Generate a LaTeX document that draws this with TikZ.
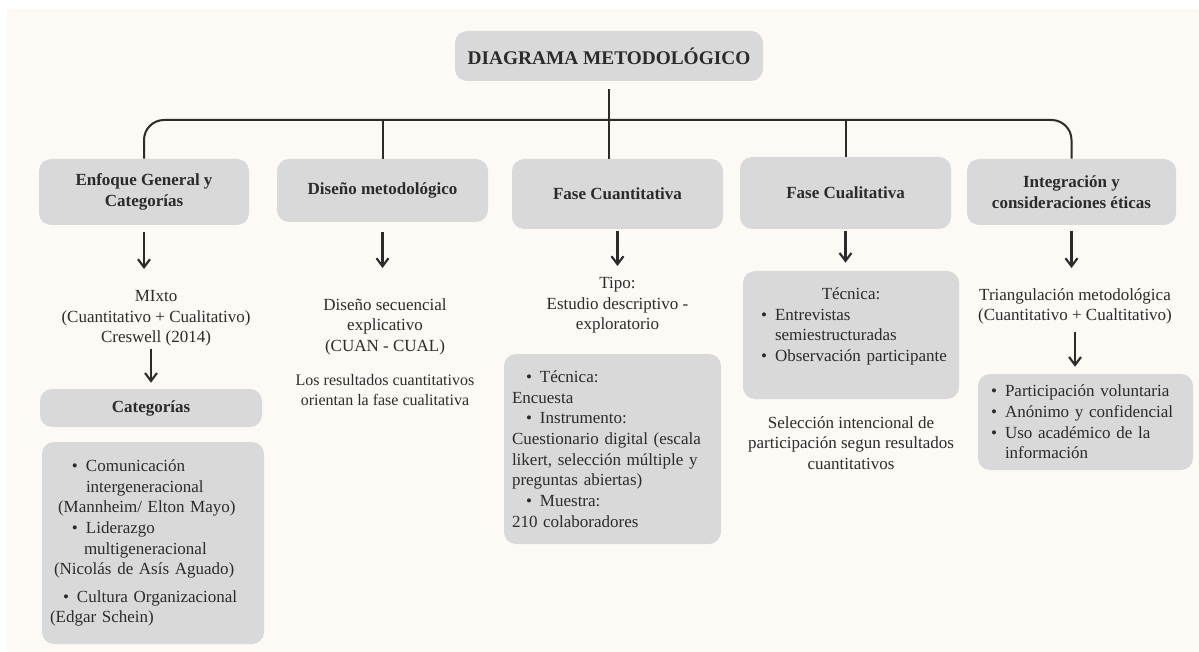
\documentclass[tikz,border=0pt]{standalone}
\usepackage{fontspec}
\setmainfont{Liberation Serif}
\usetikzlibrary{arrows.meta}

\definecolor{cream}{HTML}{FDF9F5}
\definecolor{boxgray}{HTML}{D9D9D9}
\definecolor{ink}{HTML}{2B2B2B}
\newcommand{\bul}{\makebox[10.5pt][l]{\textbullet}}

\begin{document}
\begin{tikzpicture}[x=0.75pt, y=-0.75pt,
  every node/.style={text=ink, font=\fontsize{12.75}{15.5}\selectfont},
  hdbox/.style={fill=boxgray, rounded corners=9pt, inner sep=0pt, align=center,
    font=\fontsize{12.75}{15.5}\selectfont\bfseries},
  listbox/.style={fill=boxgray, rounded corners=9pt, inner xsep=6pt, inner ysep=0pt, align=left},
  txtnode/.style={inner sep=0pt, align=center},
  treeline/.style={draw=ink, line width=1.5pt},
  arrowline/.style={every edge/.style={draw=ink, line width=1.6pt,
    -{Straight Barb[length=6pt,width=9pt]}}}
  ]
  \useasboundingbox (0,0) rectangle (1199,652);
  \fill[white] (0,0) rectangle (1199,652);
  \fill[cream] (7,9) rectangle (1199,652);

  % title and the five branches
  \node[hdbox, minimum width=231pt, minimum height=37.5pt,
    font=\fontsize{14.5}{17}\selectfont\bfseries] (title) at (609,56) {DIAGRAMA METODOLÓGICO};
  \node[hdbox, minimum width=157.5pt, minimum height=49.5pt] (hEnf) at (144,192) {Enfoque General y\\Categorías};
  \node[hdbox, minimum width=158.25pt, minimum height=47.25pt] (hDis) at (382.5,190.5) {Diseño metodológico};
  \node[hdbox, minimum width=158.25pt, minimum height=52.5pt] (hCuan) at (617.5,194) {Fase Cuantitativa};
  \node[hdbox, minimum width=158.25pt, minimum height=54pt] (hCual) at (845.5,193) {Fase Cualitativa};
  \node[hdbox, minimum width=156.75pt, minimum height=49.5pt] (hInt) at (1071.5,192) {Integración y\\consideraciones éticas};
  \coordinate (bar) at (0,120);

  % first column
  \node[txtnode, anchor=north] (mixto) at (156,290) {MIxto\\(Cuantitativo + Cualitativo)\\Creswell (2014)};
  \node[hdbox, minimum width=166.5pt, minimum height=28.5pt] (cat) at (151,408) {Categorías};
  \node[listbox, text width=154.5pt, minimum height=151.5pt] (catlist) at (153,543) {%
    \hspace*{16.5pt}\bul Comunicación\\
    \hspace*{27pt}intergeneracional\\
    \hspace*{6pt}(Mannheim/ Elton Mayo)\\
    \hspace*{16.5pt}\bul Liderazgo\\
    \hspace*{25.5pt}multigeneracional\\
    \hspace*{3pt}(Nicolás de Asís Aguado)\\[5pt]
    \hspace*{9.75pt}\bul Cultura Organizacional\\
    (Edgar Schein)};

  % second column
  \node[txtnode, anchor=north] (dis1) at (385,298) {Diseño secuencial\\explicativo\\(CUAN - CUAL)};
  \node[txtnode, font=\fontsize{12}{14.5}\selectfont] (dis2) at (385,390) {Los resultados cuantitativos\\orientan la fase cualitativa};

  % third column
  \node[txtnode, anchor=north] (tipo) at (617.5,277) {Tipo:\\Estudio descriptivo -\\exploratorio};
  \node[listbox, text width=150.75pt, minimum height=142.5pt] (cuanlist) at (612.5,449) {%
    \hspace*{10.5pt}\bul Técnica:\\
    Encuesta\\
    \hspace*{10.5pt}\bul Instrumento:\\
    Cuestionario digital (escala\\
    likert, selección múltiple y\\
    preguntas abiertas)\\
    \hspace*{10.5pt}\bul Muestra:\\
    210 colaboradores};

  % fourth column
  \node[listbox, text width=150pt, minimum height=96pt] (cuallist) at (851,335) {%
    \makebox[\linewidth]{Técnica:}\\
    \hspace*{7.5pt}\bul Entrevistas\\
    \hspace*{18pt}semiestructuradas\\
    \hspace*{7.5pt}\bul Observación participante\\
    ~};
  \node[txtnode] (sel) at (851,443) {Selección intencional de\\participación segun resultados\\cuantitativos};

  % fifth column
  \node[txtnode, anchor=north] (tri) at (1075,288) {Triangulación metodológica\\(Cuantitativo + Cualtitativo)};
  \node[listbox, text width=149.25pt, minimum height=72pt] (intlist) at (1085.5,422) {%
    \hspace*{3.75pt}\bul Participación voluntaria\\
    \hspace*{3.75pt}\bul Anónimo y confidencial\\
    \hspace*{3.75pt}\bul Uso académico de la\\
    \hspace*{14.25pt}información};

  % branch lines
  \draw[treeline, rounded corners=15pt] (hEnf.north) |- (hInt.north |- bar) -- (hInt.north);
  \path[treeline]
  (title.south) edge[shorten <=6pt] (title.south |- hCuan.north)
  (hDis.north) edge (hDis.north |- bar)
  (hCual.north) edge (hCual.north |- bar);

  % arrows
  \path[arrowline]
  (hEnf.south) edge[shorten <=5.25pt, shorten >=15.75pt] (hEnf.south |- mixto.north)
  (hDis.south) edge[shorten <=7.5pt, shorten >=22.5pt] (hDis.south |- dis1.north)
  (hCuan.south) edge[shorten <=1.5pt, shorten >=8.25pt] (hCuan.south |- tipo.north)
  (hCual.south) edge[shorten <=1.5pt, shorten >=6pt] (hCual.south |- cuallist.north)
  (hInt.south) edge[shorten <=4.5pt, shorten >=15pt] (hInt.south |- tri.north)
  (cat.north |- mixto.south) edge[shorten <=1.5pt, shorten >=4.5pt] (cat.north)
  (tri.south) edge[shorten <=5.25pt, shorten >=5.25pt] (tri.south |- intlist.north);
\end{tikzpicture}
\end{document}
